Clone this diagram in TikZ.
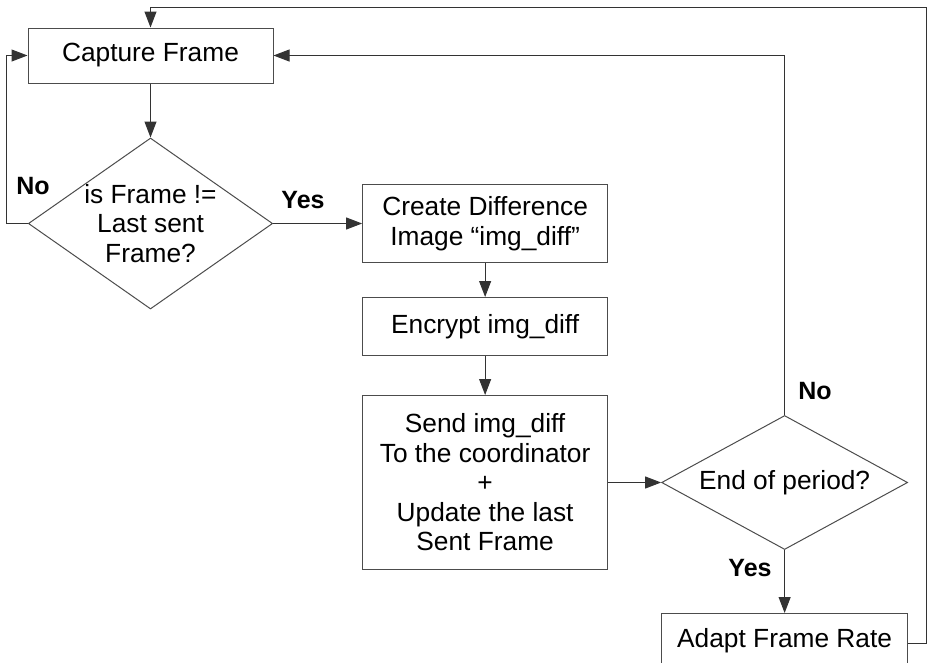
\documentclass[tikz,border=0pt]{standalone}
\usepackage{fontspec}
\setmainfont{Liberation Sans}
\usetikzlibrary{arrows.meta,positioning,shapes.geometric}

\begin{document}
\begin{tikzpicture}[
  x=1pt, y=-1pt,
  font=\fontsize{26.3}{29.5}\selectfont,
  box/.style={draw=black!70, line width=1pt, align=center, minimum width=245pt, inner sep=0pt},
  decision/.style={draw=black!70, line width=1pt, diamond, align=center, inner sep=0pt},
  answer/.style={font=\fontsize{25}{29}\selectfont\bfseries},
  arrow/.style={-{Triangle[length=16pt,width=12pt]}, line width=1pt, draw=black!80}
]
\useasboundingbox (0,0) rectangle (927,662);

\node[box, minimum height=55pt] (capture) at (150.5,55.5) {Capture Frame};

\node[decision, minimum width=244pt, minimum height=171pt, aspect=1.43,
  below=54pt of capture] (check) {is Frame !=\\Last sent\\Frame?};

\node[box, minimum height=78pt, right=89pt of check] (diff) {
  Create Difference\\
  Image ``img\_diff''
};
\node[box, minimum height=58pt, below=34pt of diff] (encrypt) {Encrypt img\_diff};
\node[box, minimum height=174pt, below=39pt of encrypt] (send) {
  Send img\_diff\\
  To the coordinator\\
  +\\
  Update the last\\
  Sent Frame
};

\node[decision, minimum width=246pt, minimum height=134pt, aspect=1.84,
  right=53pt of send] (endp) {End of period?};

\node[box, minimum width=246pt, minimum height=60pt, text depth=12pt,
  below=63pt of endp] (adapt) {Adapt Frame Rate};

\coordinate (corner) at (926,7);

\node[answer] (no1) at (33,186) {No};
\node[answer] (yes1) at (303,200) {Yes};
\node[answer] (no2) at (815,391) {No};
\node[answer] (yes2) at (750,568) {Yes};

\draw[arrow] (capture) -- (check);
\draw[arrow] (check.west) -- ++(-21,0) |- (capture.west);
\draw[arrow] (check.east) -- (diff.west);
\draw[arrow] (diff) -- (encrypt);
\draw[arrow] (encrypt) -- (send);
\draw[arrow] (send.east) -- (endp.west);
\draw[arrow] (endp.north) |- (capture.east);
\draw[arrow] (endp.south) -- (adapt.north);
\draw[arrow] (adapt.east) -| (corner) -| (capture.north);

\end{tikzpicture}
\end{document}
